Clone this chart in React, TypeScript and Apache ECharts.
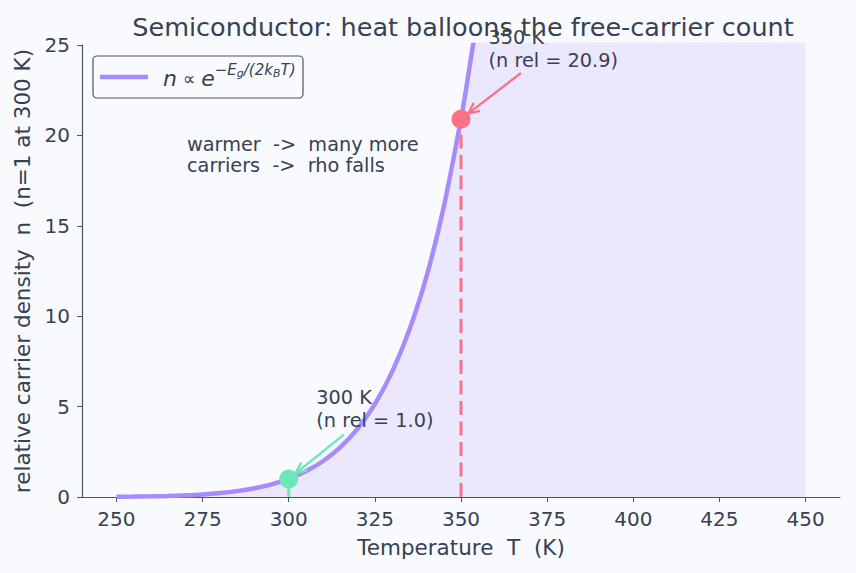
import React, { useEffect, useRef } from "react";
import * as echarts from "echarts";

const temperatures = [250, 255, 260, 265, 270, 275, 280, 285, 290, 295, 300, 305, 310, 315, 320, 325, 330, 335, 340, 345, 350, 352, 355, 360, 380, 400, 425, 450];
const relDensity = [0.014, 0.023, 0.038, 0.06, 0.094, 0.144, 0.219, 0.326, 0.48, 0.7, 1.0, 1.42, 1.99, 2.76, 3.78, 5.14, 6.92, 9.24, 12.2, 16.05, 20.9, 23.2, 27.0, 35, 90, 200, 520, 1200];
const xTicks = [250, 275, 300, 325, 350, 375, 400, 425, 450];
const highlights = [
  { T: 300, n: 1.0, color: "#6ee7b7", label: ["300 K", "(n rel = 1.0)"], textAt: [308, 6.15], arrowFrom: [316, 3.45] },
  { T: 350, n: 20.9, color: "#fb7185", label: ["350 K", "(n rel = 20.9)"], textAt: [358, 26.05], arrowFrom: [367.4, 23.45] },
];

const FONT = "DejaVu Sans";
const TXT = "#374151";
const AX = "#4b5563";
const sp = (s: string) => s.replace(/  /g, " \u00a0");

export default function App() {
  const ref = useRef<HTMLDivElement>(null);
  useEffect(() => {
    document.body.style.margin = "0";
    const chart = echarts.init(ref.current!, null, { renderer: "svg" });
    const data = temperatures.map((t, i) => [t, relDensity[i]]);
    chart.setOption({
      animation: false,
      backgroundColor: "#f9fafd",
      textStyle: { fontFamily: FONT },
      title: {
        text: "Semiconductor: heat balloons the free-carrier count",
        left: 458,
        textAlign: "center",
        top: 9,
        textStyle: { fontFamily: FONT, fontSize: 25.5, fontWeight: "normal", color: TXT },
      },
      grid: { left: 82, right: 16, top: 45, bottom: 76 },
      xAxis: {
        type: "value",
        min: 240,
        max: 460,
        name: sp("Temperature  T  (K)"),
        nameLocation: "middle",
        nameGap: 39,
        nameTextStyle: { fontFamily: FONT, fontSize: 21.5, color: TXT },
        axisLine: { show: true, lineStyle: { color: AX, width: 1.2 } },
        axisTick: { show: true, length: 5, customValues: xTicks, lineStyle: { color: AX } },
        axisLabel: { customValues: xTicks, fontSize: 20, color: TXT, margin: 12, fontFamily: FONT },
        splitLine: { show: false },
      },
      yAxis: {
        type: "value",
        min: 0,
        max: 25,
        interval: 5,
        name: sp("relative carrier density  n  (n=1 at 300 K)"),
        nameLocation: "middle",
        nameGap: 49,
        nameTextStyle: { fontFamily: FONT, fontSize: 21.5, color: TXT },
        axisLine: { show: true, lineStyle: { color: AX, width: 1.2 } },
        axisTick: { show: true, length: 5, lineStyle: { color: AX } },
        axisLabel: { fontSize: 20, color: TXT, margin: 12, fontFamily: FONT },
        splitLine: { show: false },
      },
      series: [
        {
          type: "line",
          data,
          showSymbol: false,
          smooth: 0.3,
          clip: true,
          lineStyle: { color: "#a78bfa", width: 4.5 },
          areaStyle: { color: "rgba(167,139,250,0.24)" },
          z: 2,
        },
        ...highlights.map((h) => ({
          type: "line",
          data: [[h.T, 0], [h.T, h.n]],
          showSymbol: false,
          lineStyle: { color: h.color, width: 3, type: [14, 6.5] },
          z: 3,
        })),
        {
          type: "scatter",
          data: highlights.map((h) => ({ value: [h.T, h.n], itemStyle: { color: h.color, opacity: 1 } })),
          symbolSize: 19,
          z: 5,
        },
      ],
    });

    const px = (p: number[]) => chart.convertToPixel({ gridIndex: 0 }, p) as number[];
    const graphics: any[] = [];
    highlights.forEach((h) => {
      const tp = px(h.textAt);
      graphics.push({
        type: "text",
        x: tp[0],
        y: tp[1],
        z: 10,
        style: { text: h.label.join("\n"), fontFamily: FONT, fontSize: 19.3, lineHeight: 23, fill: TXT },
      });
      const a = px(h.arrowFrom);
      const b = px([h.T, h.n]);
      const dx = b[0] - a[0], dy = b[1] - a[1];
      const len = Math.hypot(dx, dy);
      const ux = dx / len, uy = dy / len;
      const end = [b[0] - ux * 9, b[1] - uy * 9];
      const hl = 11, hw = 5;
      graphics.push({
        type: "line",
        z: 10,
        shape: { x1: a[0], y1: a[1], x2: end[0], y2: end[1] },
        style: { stroke: h.color, lineWidth: 2.4 },
      });
      graphics.push({
        type: "polyline",
        z: 10,
        shape: {
          points: [
            [end[0] - ux * hl - uy * hw, end[1] - uy * hl + ux * hw],
            end,
            [end[0] - ux * hl + uy * hw, end[1] - uy * hl - ux * hw],
          ],
        },
        style: { stroke: h.color, lineWidth: 2.4, fill: "none" },
      });
    });
    graphics.push({
      type: "text",
      x: 187,
      y: 134,
      z: 10,
      style: { text: sp("warmer  ->  many more\ncarriers  ->  rho falls"), fontFamily: FONT, fontSize: 19.3, lineHeight: 21, fill: TXT },
    });
    graphics.push({
      type: "rect",
      z: 10,
      shape: { x: 93, y: 56, width: 210, height: 42, r: 4 },
      style: { fill: "#f9fafd", stroke: AX, lineWidth: 1.2 },
    });
    graphics.push({
      type: "line",
      z: 11,
      shape: { x1: 100, y1: 77, x2: 148, y2: 77 },
      style: { stroke: "#a78bfa", lineWidth: 4.5 },
    });
    graphics.push({
      type: "text",
      x: 163,
      y: 78,
      z: 11,
      style: {
        text: "{m|n}{r|\u00a0∝\u00a0}{m|e}{s|−E}{b|g}{s|/(2k}{b|B}{s|T)}",
        verticalAlign: "middle",
        fill: TXT,
        rich: {
          m: { fontFamily: FONT, fontSize: 22, fontStyle: "italic", fill: TXT },
          r: { fontFamily: FONT, fontSize: 18, fill: TXT },
          s: { fontFamily: FONT, fontSize: 15, fontStyle: "italic", fill: TXT, padding: [0, 0, 17, 0] },
          b: { fontFamily: FONT, fontSize: 11, fontStyle: "italic", fill: TXT, padding: [0, 0, 10, 0] },
        },
      },
    });
    chart.setOption({ graphic: graphics });
    return () => chart.dispose();
  }, []);
  return <div ref={ref} style={{ width: 856, height: 573 }} />;
}
